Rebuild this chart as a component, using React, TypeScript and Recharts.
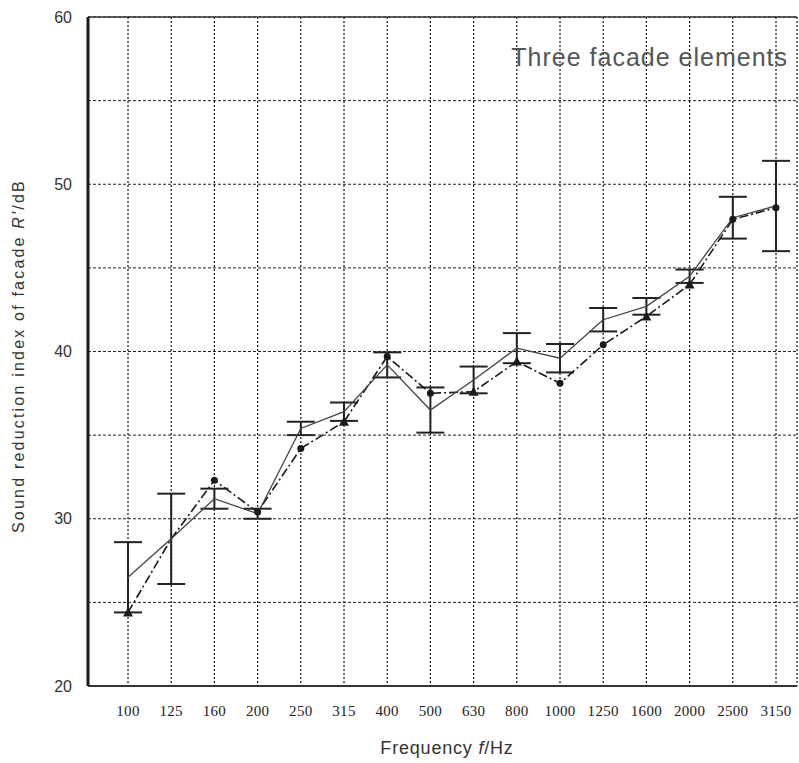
import { LineChart, Line, XAxis, YAxis, CartesianGrid, ErrorBar, ReferenceLine, Label } from 'recharts'

const freqs = ['100', '125', '160', '200', '250', '315', '400', '500', '630', '800', '1000', '1250', '1600', '2000', '2500', '3150']
const meanValues = [26.5, 28.8, 31.2, 30.3, 35.4, 36.4, 39.2, 36.5, 38.3, 40.2, 39.6, 41.9, 42.7, 44.5, 48.0, 48.7]
const meanError = [2.1, 2.7, 0.6, 0.3, 0.4, 0.55, 0.75, 1.35, 0.8, 0.9, 0.85, 0.7, 0.5, 0.4, 1.25, 2.7]
const predicted = [24.4, 28.8, 32.3, 30.4, 34.2, 35.8, 39.7, 37.5, 37.6, 39.4, 38.1, 40.4, 42.1, 44.0, 47.9, 48.6]
const markerShapes = ['tri', 'none', 'circle', 'circle', 'circle', 'tri', 'circle', 'circle', 'tri', 'tri', 'circle', 'circle', 'tri', 'tri', 'circle', 'circle']
const yTicks = [20, 25, 30, 35, 40, 45, 50, 55, 60]

const data = freqs.map((f, i) => ({
  i,
  freq: f,
  mean: meanValues[i],
  err: meanError[i],
  pred: predicted[i],
}))

function PredDot(props: { cx?: number; cy?: number; index?: number }) {
  const { cx, cy, index } = props
  if (cx == null || cy == null || index == null) return null
  const shape = markerShapes[index]
  if (shape === 'tri') {
    return <path key={index} d={`M${cx},${cy - 5} L${cx + 5},${cy + 4} L${cx - 5},${cy + 4} Z`} fill="#1a1a1a" />
  }
  if (shape === 'circle') {
    return <circle key={index} cx={cx} cy={cy} r={3.5} fill="#1a1a1a" />
  }
  return <g key={index} />
}

export default function App() {
  return (
    <div style={{ position: 'absolute', left: 0, top: 0, width: 799, height: 763, background: '#fff' }}>
      <LineChart width={799} height={763} data={data} margin={{ top: 17, right: 2, left: 0, bottom: 0 }}>
        {/* dashed horizontals, dotted verticals like the scanned original */}
        <CartesianGrid vertical={false} stroke="#222" strokeDasharray="3 2" strokeWidth={1} />
        <CartesianGrid horizontal={false} stroke="#111" strokeDasharray="2 2" strokeWidth={1.2} />
        <XAxis
          dataKey="i"
          type="number"
          domain={[-0.926, 15.486]}
          ticks={freqs.map((_, i) => i)}
          tickFormatter={(v: number) => freqs[v] ?? ''}
          allowDataOverflow
          height={77}
          tickLine={false}
          axisLine={{ stroke: '#333', strokeWidth: 2 }}
          tick={{ fontSize: 15, fill: '#222', fontFamily: 'Liberation Serif', letterSpacing: 0.3 }}
          tickMargin={13}
        >
          <Label
            content={() => (
              <text x={447} y={754} textAnchor="middle" fontSize={18} fill="#333" fontFamily="Liberation Sans" letterSpacing={0.8}>
                Frequency <tspan fontStyle="italic">f</tspan>/Hz
              </text>
            )}
          />
        </XAxis>
        <YAxis
          type="number"
          domain={[20, 60]}
          ticks={yTicks}
          tickFormatter={(v: number) => (v % 10 === 0 ? String(v) : '')}
          width={88}
          tickLine={false}
          axisLine={{ stroke: '#1a1a1a', strokeWidth: 3 }}
          tick={{ fontSize: 16, fill: '#333', fontFamily: 'Liberation Sans' }}
          tickMargin={10}
        >
          <Label
            content={() => (
              <text
                x={24}
                y={356}
                transform="rotate(-90 24 356)"
                textAnchor="middle"
                fontSize={16}
                fill="#333"
                fontFamily="Liberation Sans"
                letterSpacing={2.2}
              >
                Sound reduction index of facade <tspan fontStyle="italic">R'</tspan>/dB
              </text>
            )}
          />
        </YAxis>
        <ReferenceLine y={60} stroke="#333" strokeWidth={1.5} />
        <Line
          type="linear"
          dataKey="pred"
          stroke="#1a1a1a"
          strokeWidth={1.6}
          strokeDasharray="9 3 2 3"
          dot={(p: any) => <PredDot key={p.index} cx={p.cx} cy={p.cy} index={p.index} />}
          isAnimationActive={false}
        />
        <Line
          type="linear"
          dataKey="mean"
          stroke="#444"
          strokeWidth={1.3}
          dot={false}
          isAnimationActive={false}
        >
          <ErrorBar dataKey="err" direction="y" width={14} stroke="#222" strokeWidth={2} />
        </Line>
        <text x={788} y={66} textAnchor="end" fontSize={25} fill="#555" fontFamily="Liberation Sans" letterSpacing={1}>
          Three facade elements
        </text>
      </LineChart>
    </div>
  )
}
